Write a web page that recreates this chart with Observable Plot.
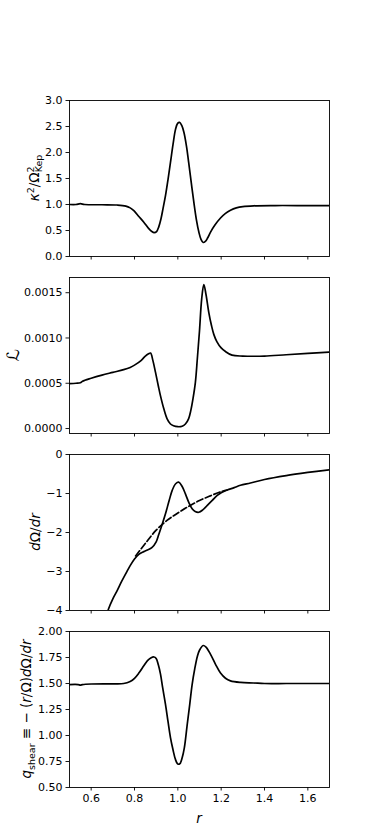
<!DOCTYPE html>
<html>
<head>
<meta charset="utf-8">
<script src="https://cdn.jsdelivr.net/npm/d3@7"></script>
<script src="https://cdn.jsdelivr.net/npm/@observablehq/plot@0.6"></script>
<style>
  html, body { margin: 0; padding: 0; background: white; }
  #chart { position: relative; width: 366px; height: 829px; background: white; font-family: "DejaVu Sans", sans-serif; }
  #chart svg { position: absolute; left: 0; }
</style>
</head>
<body>
<div id="chart"></div>
<script>
// ---- data ----
const xTicks = [0.6, 0.8, 1.0, 1.2, 1.4, 1.6];

// Panel 1: kappa^2 / Omega_Kep^2
const rK = [0.5, 0.53, 0.55, 0.57, 0.65, 0.72, 0.76, 0.78, 0.797, 0.82, 0.843, 0.865, 0.88, 0.891, 0.902, 0.912, 0.922, 0.932, 0.943, 0.955, 0.966, 0.978, 0.989, 0.999, 1.008, 1.018, 1.028, 1.04, 1.05, 1.062, 1.074, 1.086, 1.097, 1.107, 1.117, 1.127, 1.138, 1.151, 1.172, 1.197, 1.22, 1.243, 1.27, 1.3, 1.35, 1.45, 1.55, 1.7];
const kappa2 = [1.0, 1.0, 1.015, 1.0, 0.995, 0.99, 0.97, 0.935, 0.88, 0.77, 0.66, 0.54, 0.48, 0.46, 0.48, 0.57, 0.72, 0.93, 1.17, 1.49, 1.81, 2.16, 2.44, 2.56, 2.58, 2.52, 2.39, 2.12, 1.81, 1.42, 1.04, 0.7, 0.47, 0.33, 0.27, 0.29, 0.36, 0.47, 0.61, 0.74, 0.83, 0.89, 0.935, 0.96, 0.975, 0.98, 0.98, 0.98];
const kTicks = [0, 0.5, 1.0, 1.5, 2.0, 2.5, 3.0];

// Panel 2: L
const rL = [0.5, 0.53, 0.55, 0.56, 0.6, 0.65, 0.7, 0.75, 0.78, 0.8, 0.83, 0.85, 0.865, 0.874, 0.885, 0.897, 0.91, 0.92, 0.935, 0.95, 0.966, 0.98, 1.0, 1.02, 1.035, 1.05, 1.06, 1.07, 1.081, 1.09, 1.1, 1.11, 1.12, 1.13, 1.143, 1.155, 1.166, 1.18, 1.2, 1.22, 1.25, 1.3, 1.35, 1.4, 1.5, 1.6, 1.7];
const Lval = [0.000495, 0.0005, 0.000505, 0.000522, 0.000555, 0.00059, 0.00062, 0.00065, 0.000675, 0.0007, 0.00075, 0.0008, 0.000825, 0.000833, 0.00075, 0.00062, 0.00047, 0.00036, 0.00022, 0.00011, 0.00005, 0.00003, 0.00002, 0.000025, 0.00005, 0.00011, 0.0002, 0.00033, 0.00051, 0.00077, 0.00108, 0.00143, 0.00159, 0.00148, 0.00128, 0.00114, 0.00104, 0.00096, 0.00089, 0.00085, 0.00081, 0.0008, 0.000798, 0.0008, 0.000815, 0.00083, 0.000845];
const LTicks = [0, 0.0005, 0.0010, 0.0015];

// Panel 3: dOmega/dr (solid) and Keplerian reference (dashed)
const rD = [0.66, 0.68, 0.7, 0.72, 0.74, 0.766, 0.78, 0.8, 0.82, 0.843, 0.86, 0.88, 0.9, 0.912, 0.93, 0.943, 0.96, 0.974, 0.99, 1.004, 1.02, 1.035, 1.05, 1.066, 1.08, 1.097, 1.115, 1.135, 1.16, 1.182, 1.2, 1.228, 1.26, 1.289, 1.335, 1.4, 1.5, 1.6, 1.7];
const dOmega = [-4.35, -3.96, -3.7, -3.49, -3.26, -2.99, -2.85, -2.68, -2.56, -2.49, -2.45, -2.39, -2.24, -2.05, -1.75, -1.52, -1.18, -0.92, -0.75, -0.71, -0.82, -1.01, -1.22, -1.39, -1.46, -1.48, -1.42, -1.31, -1.17, -1.05, -0.98, -0.91, -0.85, -0.79, -0.73, -0.64, -0.54, -0.46, -0.39];
const rDk = [0.805, 0.85, 0.9, 0.95, 1.0, 1.05, 1.1, 1.15, 1.2, 1.228];
const dOmegaKep = [-2.6, -2.28, -1.94, -1.69, -1.5, -1.33, -1.18, -1.06, -0.95, -0.91];
const dTicks = [-4, -3, -2, -1, 0];

// Panel 4: q_shear
const rQ = [0.5, 0.54, 0.55, 0.56, 0.6, 0.7, 0.75, 0.78, 0.8, 0.82, 0.843, 0.86, 0.875, 0.89, 0.9, 0.91, 0.92, 0.93, 0.943, 0.955, 0.966, 0.978, 0.989, 1.0, 1.01, 1.02, 1.03, 1.043, 1.055, 1.066, 1.078, 1.09, 1.1, 1.117, 1.13, 1.151, 1.175, 1.197, 1.22, 1.243, 1.29, 1.35, 1.4, 1.5, 1.6, 1.7];
const qShear = [1.49, 1.49, 1.485, 1.49, 1.495, 1.497, 1.5, 1.52, 1.55, 1.6, 1.67, 1.72, 1.745, 1.755, 1.74, 1.68, 1.59, 1.46, 1.3, 1.13, 0.98, 0.86, 0.77, 0.725, 0.73, 0.785, 0.88, 1.1, 1.3, 1.49, 1.64, 1.76, 1.82, 1.865, 1.85, 1.78, 1.68, 1.6, 1.55, 1.525, 1.51, 1.505, 1.5, 1.5, 1.5, 1.5];
const qTicks = [0.5, 0.75, 1.0, 1.25, 1.5, 1.75, 2.0];

// ---- drawing ----
const chart = document.getElementById("chart");
const W = 366, ML = 69, MR = 37, PH = 156;
const zip = (xs, ys) => xs.map((x, i) => ({r: x, v: ys[i]}));

function panel({top, mt, mb, yDomain, yTicks, yFmt, lines, xLabels}) {
  const svg = Plot.plot({
    width: W,
    height: PH + mt + mb,
    marginLeft: ML, marginRight: MR, marginTop: mt, marginBottom: mb,
    x: {domain: [0.5, 1.7], label: null},
    y: {domain: yDomain, label: null},
    style: {fontFamily: "DejaVu Sans", fontSize: "11px", color: "black", background: "transparent", overflow: "visible"},
    marks: [
      Plot.axisY({ticks: yTicks, tickFormat: yFmt, tickSize: 3.5, tickPadding: 3.5, label: null, strokeWidth: 0.9}),
      Plot.axisX({ticks: xTicks, tickFormat: xLabels ? d3.format(".1f") : () => "", tickSize: 3.5, tickPadding: 3.5, label: null, strokeWidth: 0.9}),
      ...lines.map(l => Plot.line(l.data, {x: "r", y: "v", stroke: "black", strokeWidth: 1.7, curve: "catmull-rom", clip: true, strokeDasharray: l.dash || null})),
      Plot.frame({stroke: "black", strokeWidth: 0.9})
    ]
  });
  svg.style.top = (top - mt) + "px";
  chart.appendChild(svg);
  return svg;
}

function yLabel(svg, x, mt, build) {
  const t = d3.select(svg).append("text")
    .attr("transform", `translate(${x},${mt + PH / 2}) rotate(-90)`)
    .attr("text-anchor", "middle")
    .attr("font-family", "DejaVu Sans")
    .attr("font-size", 13.5)
    .attr("fill", "black");
  build(t);
}
const span = (t, s, o = {}) => {
  const e = t.append("tspan").text(s);
  for (const k in o) e.attr(k, o[k]);
  return e;
};

const s1 = panel({top: 100, mt: 10, mb: 12, yDomain: [0, 3], yTicks: kTicks, yFmt: d3.format(".1f"),
  lines: [{data: zip(rK, kappa2)}], xLabels: false});
yLabel(s1, 39, 10, t => {
  span(t, "κ", {"font-style": "italic"});
  span(t, "2", {"font-size": 9.5, dy: -5.5});
  span(t, "/Ω", {dy: 5.5});
  span(t, "2", {"font-size": 9.5, dy: -5.5});
  span(t, "Kep", {"font-size": 9.5, dx: -6, dy: 8.5});
});

const s2 = panel({top: 277, mt: 10, mb: 12, yDomain: [-0.000055, 0.001668], yTicks: LTicks, yFmt: d3.format(".4f"),
  lines: [{data: zip(rL, Lval)}], xLabels: false});
yLabel(s2, 19, 10, t => { span(t, "ℒ", {"font-size": 17}); });

const s3 = panel({top: 454, mt: 10, mb: 12, yDomain: [-4, 0], yTicks: dTicks, yFmt: d3.format("d"),
  lines: [{data: zip(rD, dOmega)}, {data: zip(rDk, dOmegaKep), dash: "6.5,2.7"}], xLabels: false});
yLabel(s3, 40, 10, t => {
  span(t, "d", {"font-style": "italic"});
  span(t, "Ω/");
  span(t, "dr", {"font-style": "italic"});
});

const s4 = panel({top: 631, mt: 10, mb: 42, yDomain: [0.5, 2.0], yTicks: qTicks, yFmt: d3.format(".2f"),
  lines: [{data: zip(rQ, qShear)}], xLabels: true});
yLabel(s4, 31, 10, t => {
  span(t, "q", {"font-style": "italic"});
  span(t, "shear", {"font-size": 9.5, dy: 3.5});
  span(t, " ≡ − (", {dy: -3.5});
  span(t, "r", {"font-style": "italic"});
  span(t, "/Ω)");
  span(t, "d", {"font-style": "italic"});
  span(t, "Ω/");
  span(t, "dr", {"font-style": "italic"});
});
d3.select(s4).append("text")
  .attr("x", ML + (W - ML - MR) / 2)
  .attr("y", 10 + PH + 36)
  .attr("text-anchor", "middle")
  .attr("font-family", "DejaVu Sans")
  .attr("font-style", "italic")
  .attr("font-size", 13.5)
  .attr("fill", "black")
  .text("r");
</script>
</body>
</html>
